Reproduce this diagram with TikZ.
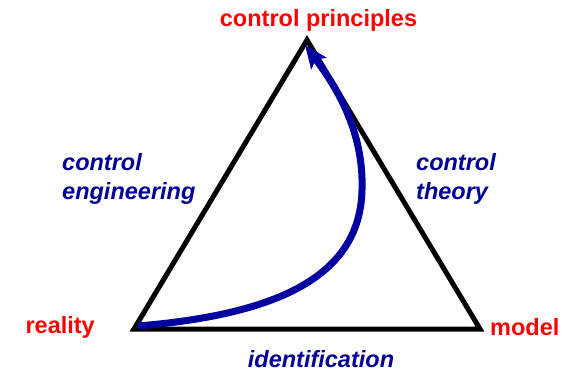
\documentclass[tikz,border=0pt]{standalone}
\usepackage{fontspec}
\setmainfont{Liberation Sans}
\usetikzlibrary{arrows.meta}
\definecolor{lblred}{RGB}{255,0,0}
\definecolor{lblblue}{RGB}{0,0,150}
\definecolor{curveblue}{RGB}{0,0,160}
\begin{document}
\begin{tikzpicture}[x=1pt,y=-1pt,
  vertexlabel/.style={text=lblred,font=\fontsize{23.5}{27}\selectfont\bfseries,inner sep=0pt},
  edgelabel/.style={text=lblblue,font=\fontsize{23.5}{29}\selectfont\bfseries\itshape,inner sep=0pt,align=left},
  side/.style={line width=5pt,line join=miter,black},
  flow/.style={line width=7pt,curveblue,-{Stealth[length=23pt,width=19pt,inset=5pt]}}]
\useasboundingbox (0,0) rectangle (564,373);
\coordinate (top) at (307,40);
\coordinate (bl) at (134,329);
\coordinate (br) at (480,329);
\coordinate (start) at (138,326);
\coordinate (mid) at (362,190);
\coordinate (tip) at (305,45);
\draw[side] (top) -- (br) -- (bl) -- cycle;
\draw[flow] (start) .. controls (270,315) and (360,280) .. (mid)
  .. controls (364,130) and (335,85) .. (tip);
\node[vertexlabel] (cp) at (318.5,20) {control principles};
\node[vertexlabel,anchor=east] (re) at (95,327) {reality};
\node[vertexlabel,anchor=west] (mo) at (490,327) {model};
\node[edgelabel] (id) at (321,359) {identification};
\node[edgelabel,anchor=west] (ce) at (62,179) {control\\engineering};
\node[edgelabel,anchor=west] (ct) at (416,179) {control\\theory};
\end{tikzpicture}
\end{document}
